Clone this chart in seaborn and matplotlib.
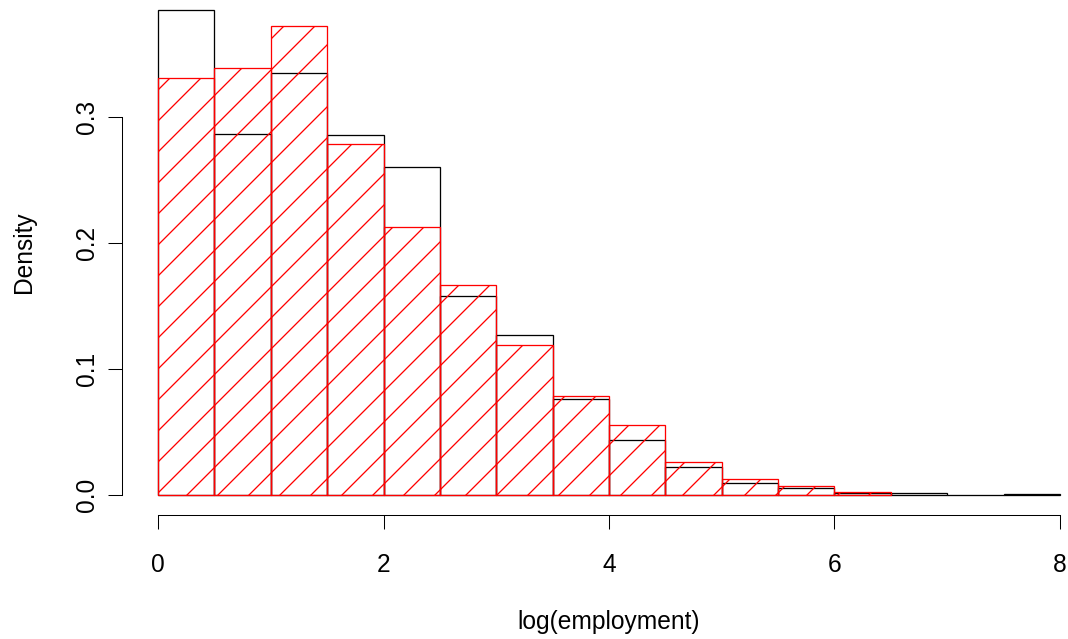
import numpy as np
import matplotlib
matplotlib.use("Agg")
import matplotlib.pyplot as plt
import seaborn as sns

# Histogram bins of log(employment), width 0.5
edges = [0.0, 0.5, 1.0, 1.5, 2.0, 2.5, 3.0, 3.5, 4.0, 4.5, 5.0, 5.5, 6.0, 6.5, 7.0, 7.5, 8.0]

# Density per bin, first group (black outline)
dens_black = [0.385, 0.2865, 0.335, 0.2857, 0.260, 0.158, 0.127, 0.0762,
              0.0437, 0.0222, 0.0095, 0.0056, 0.0016, 0.0016, 0.0003, 0.0008]

# Density per bin, second group (red, hatched)
dens_red = [0.331, 0.339, 0.372, 0.2786, 0.2127, 0.1667, 0.119, 0.0786,
            0.0556, 0.0262, 0.0127, 0.0071, 0.0024]

x_ticks = [0, 2, 4, 6, 8]
x_ticklabels = ["0", "2", "4", "6", "8"]
y_ticks = [0.0, 0.1, 0.2, 0.3]
y_ticklabels = ["0.0", "0.1", "0.2", "0.3"]

sns.set_style("ticks")
plt.rcParams["font.family"] = ["Liberation Sans", "DejaVu Sans"]
plt.rcParams["hatch.linewidth"] = 1.0
plt.rcParams["hatch.color"] = "red"
plt.rcParams["text.color"] = "black"
plt.rcParams["axes.labelcolor"] = "black"

# dpi chosen so the '/' hatch lines are ~31 px apart
W, H, DPI = 1068, 639, 93
fig = plt.figure(figsize=(W / DPI, H / DPI), dpi=DPI)
fig.patch.set_facecolor("white")

# plot region in pixels (left, right, top, bottom)
L, R, T, B = 122, 1096, -9.5, 514.5
ax = fig.add_axes([L / W, (H - B) / H, (R - L) / W, (B - T) / H])
ax.set_facecolor("white")

edges_arr = np.asarray(edges)
centers_black = (edges_arr[:-1] + edges_arr[1:]) / 2
n_red = len(dens_red)
centers_red = centers_black[:n_red]

sns.histplot(x=centers_black, weights=dens_black, bins=edges, stat="count",
             element="bars", fill=False, color="black", linewidth=1.0, ax=ax)
sns.histplot(x=centers_red, weights=dens_red, bins=edges[:n_red + 1], stat="count",
             element="bars", fill=False, color="red", hatch="/", linewidth=1.0, ax=ax)

ax.set_xlim(-0.32, 8.32)
ax.set_ylim(-0.0154, 0.4004)

for s in ["top", "right"]:
    ax.spines[s].set_visible(False)
ax.spines["left"].set_bounds(0, 0.3)
ax.spines["bottom"].set_bounds(0, 8)
for s in ["left", "bottom"]:
    ax.spines[s].set_linewidth(0.8)
    ax.spines[s].set_color("black")

ax.set_xticks(x_ticks)
ax.set_xticklabels(x_ticklabels)
ax.set_yticks(y_ticks)
ax.set_yticklabels(y_ticklabels)
ax.tick_params(axis="both", direction="out", length=11, width=0.8,
               colors="black", labelsize=19)
ax.tick_params(axis="x", pad=19)
ax.tick_params(axis="y", pad=7, labelrotation=90)
for lab in ax.get_yticklabels():
    lab.set_va("center")

ax.set_xlabel("log(employment)", fontsize=19, color="black")
ax.set_ylabel("Density", fontsize=19, color="black")
ax.xaxis.label.set_va("center")
ax.yaxis.label.set_va("center")
ax.xaxis.set_label_coords((609 - L) / (R - L), (B - 622) / (B - T))
ax.yaxis.set_label_coords((23.5 - L) / (R - L), (B - 252) / (B - T))

fig.savefig("out.png", dpi=DPI)
